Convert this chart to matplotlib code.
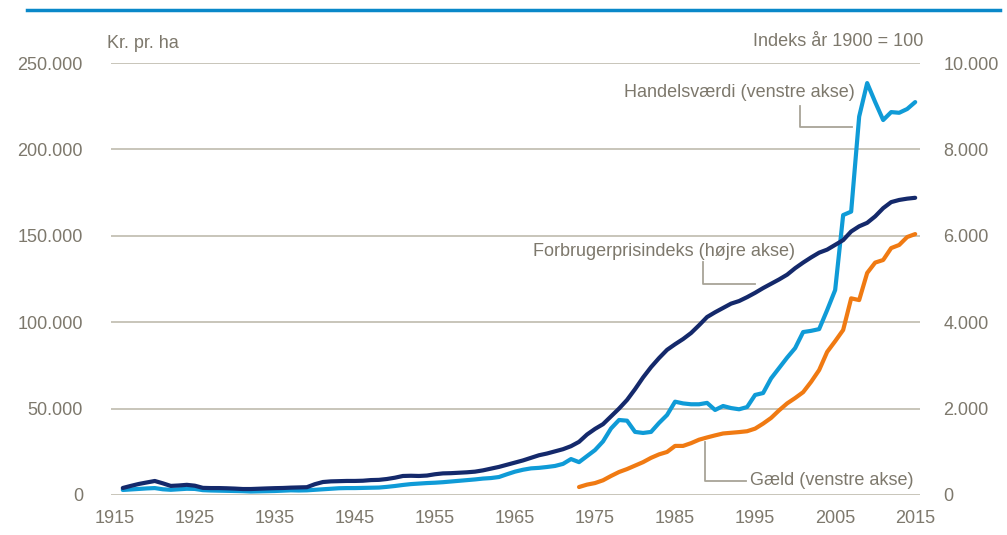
import matplotlib.pyplot as plt
import numpy as np
from matplotlib.lines import Line2D
from matplotlib.ticker import FuncFormatter

# Data
years = np.arange(1916, 2016)

handelsvaerdi = [
    2900, 3200, 3500, 3800, 4000, 3300, 3000, 3300, 3600, 3500,
    2800, 2600, 2500, 2400, 2300, 2200, 2000, 2100, 2200, 2300,
    2500, 2700, 2600, 2700, 3000, 3300, 3600, 3900, 4000, 4000,
    4100, 4200, 4300, 4700, 5200, 5800, 6300, 6600, 6900, 7100,
    7400, 7800, 8200, 8600, 9000, 9500, 9800, 10400, 12000, 13500,
    14600, 15400, 15700, 16200, 16800, 18000, 20800, 19000, 22500, 26000,
    31000, 38500, 43400, 43000, 36500, 35900, 36500, 41700, 46300, 54000,
    53000, 52500, 52500, 53300, 49200, 51500, 50300, 49600, 50900, 57900,
    59000, 67500, 73500, 79500, 85000, 94300, 95000, 96000, 107000, 118600,
    162000, 164000, 219000, 238400, 227400, 217000, 221600, 221200, 223400, 227400,
]

forbrugerpris = [
    162, 210, 255, 290, 324, 270, 210, 220, 235, 215,
    165, 160, 160, 155, 148, 138, 138, 145, 152, 158,
    162, 170, 175, 180, 250, 300, 315, 320, 325, 325,
    330, 345, 350, 370, 400, 440, 445, 440, 450, 480,
    500, 505, 515, 525, 540, 570, 610, 650, 700, 750,
    800, 860, 920, 960, 1010, 1060, 1130, 1230, 1400, 1530,
    1640, 1820, 2000, 2200, 2450, 2720, 2960, 3170, 3360, 3490,
    3610, 3750, 3930, 4120, 4230, 4330, 4430, 4490, 4580, 4680,
    4790, 4890, 4990, 5100, 5250, 5380, 5500, 5610, 5680, 5790,
    5900, 6100, 6220, 6300, 6450, 6640, 6780, 6830, 6860, 6880,
]

gaeld_years = np.arange(1973, 2016)
gaeld = [
    4600, 6000, 6900, 8500, 11000, 13300, 15000, 17000, 19000, 21500,
    23500, 24900, 28400, 28400, 30000, 32000, 33300, 34500, 35600, 36000,
    36400, 36900, 38400, 41300, 44600, 49000, 53000, 56100, 59500, 65500,
    72300, 82800, 89000, 95500, 113800, 112800, 128500, 134500, 136000, 142900,
    144700, 149300, 151000,
]

# Farver
lyseblaa = '#0f9bd7'
moerkeblaa = '#14296b'
orange = '#f07a12'
tekst = '#7d786c'
gitter = '#c4c0b4'
streg = '#a8a497'

plt.rcParams['font.family'] = ['Liberation Sans', 'DejaVu Sans']
fs = 13

fig = plt.figure(figsize=(10.07, 5.35), dpi=100)
ax = fig.add_axes([0.110, 0.0748, 0.8036, 0.8074])
ax2 = ax.twinx()

ax.plot(years, handelsvaerdi, color=lyseblaa, lw=3, solid_capstyle='round', zorder=3)
ax.plot(gaeld_years, gaeld, color=orange, lw=3, solid_capstyle='round', zorder=3)
ax2.plot(years, forbrugerpris, color=moerkeblaa, lw=3, solid_capstyle='round', zorder=3)

ax.set_xlim(1914.5, 2015.6)
ax.set_ylim(0, 250000)
ax2.set_ylim(0, 10000)
ax.set_xticks(np.arange(1915, 2016, 10))
ax.set_yticks(np.arange(0, 250001, 50000))
ax2.set_yticks(np.arange(0, 10001, 2000))

dk = FuncFormatter(lambda v, p: f'{int(v):,}'.replace(',', '.'))
ax.yaxis.set_major_formatter(dk)
ax2.yaxis.set_major_formatter(dk)

ax.grid(axis='y', color=gitter, lw=1.3)
ax.set_axisbelow(True)
for a in (ax, ax2):
    for s in a.spines.values():
        s.set_visible(False)
ax.tick_params(axis='both', length=0, labelsize=fs, labelcolor=tekst)
ax.tick_params(axis='y', pad=20)
ax.tick_params(axis='x', pad=11)
ax2.tick_params(axis='y', length=0, labelsize=fs, labelcolor=tekst, pad=17)

# Aksetitler
fig.text(107 / 1007, 1 - 43 / 535, 'Kr. pr. ha', fontsize=fs, color=tekst, va='center', ha='left')
fig.text(923 / 1007, 1 - 42 / 535, 'Indeks år 1900 = 100', fontsize=fs, color=tekst,
         va='center', ha='right')

# Etiketter med streger
ax.text(2007.5, 233000, 'Handelsværdi (venstre akse)', fontsize=fs, color=tekst,
        ha='right', va='center')
ax.plot([2000.6, 2000.6, 2007.1], [225000, 213000, 213000], color=streg, lw=1.3)

ax.text(2000.0, 141000, 'Forbrugerprisindeks (højre akse)', fontsize=fs, color=tekst,
        ha='right', va='center', zorder=4)
ax.plot([1988.5, 1988.5, 1995.0], [135000, 122000, 122000], color=streg, lw=1.3)

ax.text(1994.4, 8100, 'Gæld (venstre akse)', fontsize=fs, color=tekst,
        ha='left', va='center')
ax.plot([1988.7, 1988.7, 1993.8], [30500, 8100, 8100], color=streg, lw=1.3)

# Blå linje øverst
fig.add_artist(Line2D([27 / 1007, 1000 / 1007], [1 - 10 / 535, 1 - 10 / 535],
                      color='#0a88c9', lw=2.5))

plt.savefig('out.png', dpi=100)
